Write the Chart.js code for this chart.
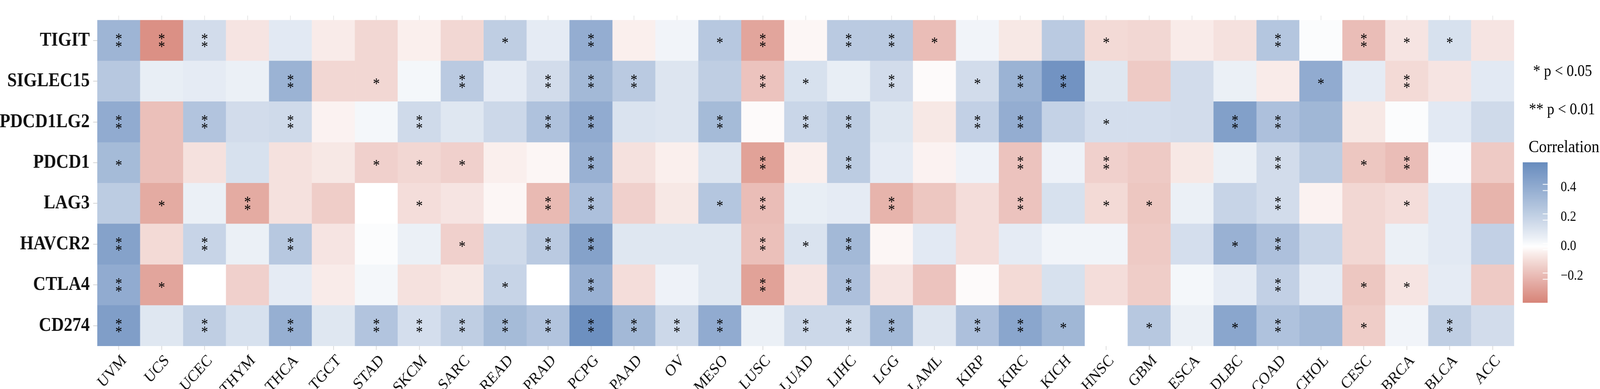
<!DOCTYPE html>
<html>
<head>
<meta charset="utf-8">
<script src="https://cdn.jsdelivr.net/npm/chart.js@4.4.1/dist/chart.umd.min.js"></script>
<style>
html, body { margin:0; padding:0; background:#fff; overflow:hidden; }
#wrap { width:4639px; height:997px; transform-origin:0 0; }
</style>
</head>
<body>
<div id="wrap"><canvas id="heat"></canvas></div>
<script>
var cancers = ['UVM','UCS','UCEC','THYM','THCA','TGCT','STAD','SKCM','SARC','READ','PRAD','PCPG','PAAD','OV','MESO','LUSC','LUAD','LIHC','LGG','LAML','KIRP','KIRC','KICH','HNSC','GBM','ESCA','DLBC','COAD','CHOL','CESC','BRCA','BLCA','ACC'];
// bottom row first
var genes = ['CD274','CTLA4','HAVCR2','LAG3','PDCD1','PDCD1LG2','SIGLEC15','TIGIT'];

var corTIGIT    = [0.35,-0.34,0.15,-0.07,0.09,-0.05,-0.11,-0.04,-0.11,0.22,0.08,0.39,-0.04,0.04,0.25,-0.27,-0.02,0.24,0.24,-0.19,0.04,-0.06,0.24,-0.10,-0.11,-0.05,-0.08,0.26,0.01,-0.19,-0.07,0.13,-0.07];
var corSIGLEC15 = [0.25,0.07,0.08,0.06,0.36,-0.11,-0.11,0.03,0.24,0.08,0.15,0.33,0.24,0.11,0.22,-0.17,0.13,0.07,0.15,-0.01,0.15,0.36,0.53,0.10,-0.15,0.15,0.06,-0.05,0.40,0.08,-0.10,-0.07,0.09];
var corPDCD1LG2 = [0.40,-0.18,0.27,0.15,0.16,-0.03,0.03,0.16,0.10,0.17,0.28,0.40,0.12,0.11,0.32,-0.01,0.18,0.23,0.10,-0.06,0.21,0.39,0.20,0.14,0.14,0.15,0.46,0.29,0.34,-0.06,0.01,0.09,0.16];
var corPDCD1    = [0.32,-0.18,-0.08,0.13,-0.08,-0.06,-0.13,-0.11,-0.13,-0.04,-0.02,0.37,-0.08,-0.04,0.11,-0.28,-0.04,0.23,0.08,-0.03,0.05,-0.17,0.05,-0.13,-0.15,-0.06,0.06,0.15,0.23,-0.16,-0.19,0.02,-0.15];
var corLAG3     = [0.23,-0.25,0.06,-0.25,-0.08,-0.14,0.00,-0.09,-0.07,-0.02,-0.20,0.29,-0.13,-0.06,0.26,-0.19,0.07,0.08,-0.22,-0.16,-0.09,-0.17,0.13,-0.10,-0.16,0.06,0.19,0.15,-0.03,-0.11,-0.09,0.09,-0.22];
var corHAVCR2   = [0.45,-0.10,0.19,0.06,0.25,-0.07,0.01,0.06,-0.13,0.16,0.24,0.45,0.10,0.10,0.10,-0.18,0.12,0.33,-0.02,0.09,-0.09,0.08,0.04,0.04,-0.15,0.14,0.37,0.29,0.18,-0.11,0.06,0.09,0.21];
var corCTLA4    = [0.40,-0.27,0.00,-0.13,0.08,-0.05,0.03,-0.08,-0.06,0.19,0.00,0.37,-0.09,0.05,0.10,-0.28,-0.07,0.29,-0.07,-0.17,-0.01,-0.10,0.13,-0.09,-0.14,0.03,0.08,0.21,0.08,-0.16,-0.07,0.08,-0.15];
var corCD274    = [0.47,0.10,0.22,0.13,0.38,0.10,0.27,0.14,0.22,0.32,0.27,0.55,0.33,0.17,0.40,0.06,0.17,0.17,0.33,0.11,0.29,0.43,0.34,0.00,0.25,0.06,0.43,0.28,0.33,-0.14,0.04,0.22,0.15];

// number of asterisks per cell
var sigTIGIT    = [2,2,2,0,0,0,0,0,0,1,0,2,0,0,1,2,0,2,2,1,0,0,0,1,0,0,0,2,0,2,1,1,0];
var sigSIGLEC15 = [0,0,0,0,2,0,1,0,2,0,2,2,2,0,0,2,1,0,2,0,1,2,2,0,0,0,0,0,1,0,2,0,0];
var sigPDCD1LG2 = [2,0,2,0,2,0,0,2,0,0,2,2,0,0,2,0,2,2,0,0,2,2,0,1,0,0,2,2,0,0,0,0,0];
var sigPDCD1    = [1,0,0,0,0,0,1,1,1,0,0,2,0,0,0,2,0,2,0,0,0,2,0,2,0,0,0,2,0,1,2,0,0];
var sigLAG3     = [0,1,0,2,0,0,0,1,0,0,2,2,0,0,1,2,0,0,2,0,0,2,0,1,1,0,0,2,0,0,1,0,0];
var sigHAVCR2   = [2,0,2,0,2,0,0,0,1,0,2,2,0,0,0,2,1,2,0,0,0,0,0,0,0,0,1,2,0,0,0,0,0];
var sigCTLA4    = [2,1,0,0,0,0,0,0,0,1,0,2,0,0,0,2,0,2,0,0,0,0,0,0,0,0,0,2,0,1,1,0,0];
var sigCD274    = [2,0,2,0,2,0,2,2,2,2,2,2,2,2,2,0,2,2,2,0,2,2,1,0,1,0,1,2,0,1,0,2,0];

var corByGene = {TIGIT:corTIGIT, SIGLEC15:corSIGLEC15, PDCD1LG2:corPDCD1LG2, PDCD1:corPDCD1, LAG3:corLAG3, HAVCR2:corHAVCR2, CTLA4:corCTLA4, CD274:corCD274};
var sigByGene = {TIGIT:sigTIGIT, SIGLEC15:sigSIGLEC15, PDCD1LG2:sigPDCD1LG2, PDCD1:sigPDCD1, LAG3:sigLAG3, HAVCR2:sigHAVCR2, CTLA4:sigCTLA4, CD274:sigCD274};

var legendTicks = [0.4, 0.2, 0.0, -0.2];
var corMax = 0.57, corMin = -0.38;
var highCol = [104,140,190], lowCol = [215,132,120];

// the window may be narrower than 4639 px: stretch the drawing to fill it
var sx = window.innerWidth / 4639, sy = window.innerHeight / 997;
document.getElementById('wrap').style.transform = 'scale(' + sx + ',' + sy + ')';

function cellColor(v){
    var t, c;
    if (v >= 0) { t = Math.min(v / corMax, 1); c = highCol; }
    else { t = Math.min(v / corMin, 1); c = lowCol; }
    t = Math.pow(t, 0.9);
    var r = Math.round(255 + (c[0]-255)*t);
    var g = Math.round(255 + (c[1]-255)*t);
    var b = Math.round(255 + (c[2]-255)*t);
    return 'rgb(' + r + ',' + g + ',' + b + ')';
}

var serif = '"Liberation Serif", "Times New Roman", serif';

var starPlugin = {
    id: 'stars',
    afterDatasetsDraw: function(chart){
        var ctx = chart.ctx, xs = chart.scales.x, ys = chart.scales.y;
        ctx.save();
        ctx.font = '40px ' + serif;
        ctx.fillStyle = '#000';
        ctx.textAlign = 'center';
        ctx.textBaseline = 'alphabetic';
        var m = ctx.measureText('*');
        var shift = (m.actualBoundingBoxAscent - m.actualBoundingBoxDescent) / 2;
        genes.forEach(function(g, r){
            sigByGene[g].forEach(function(n, c){
                var cx = xs.getPixelForValue(c);
                var cy = ys.getPixelForValue(r + 0.5);
                if (n == 1) ctx.fillText('*', cx, cy + shift);
                if (n == 2) {
                    ctx.fillText('*', cx, cy - 10 + shift);
                    ctx.fillText('*', cx, cy + 10 + shift);
                }
            });
        });
        ctx.restore();
    }
};

var legendPlugin = {
    id: 'corrLegend',
    afterDraw: function(chart){
        var ctx = chart.ctx, right = chart.chartArea.right;
        ctx.save();
        ctx.fillStyle = '#000';
        ctx.textBaseline = 'middle';
        ctx.textAlign = 'left';
        ctx.font = '42px ' + serif;
        ctx.fillText('* p < 0.05', right + 55, 184);
        ctx.fillText('** p < 0.01', right + 43, 282);
        ctx.font = '45px ' + serif;
        ctx.fillText('Correlation', right + 42, 378);

        var bx = right + 25, bw = 72, top = 416, bottom = 776;
        var grad = ctx.createLinearGradient(0, top, 0, bottom);
        for (var i = 0; i <= 20; i++) {
            var v = corMax + (corMin - corMax) * i / 20;
            grad.addColorStop(i / 20, cellColor(v));
        }
        grad.addColorStop((corMax) / (corMax - corMin), cellColor(0));
        ctx.fillStyle = grad;
        ctx.fillRect(bx, top, bw, bottom - top);

        ctx.font = '36px ' + serif;
        ctx.strokeStyle = '#fff';
        ctx.lineWidth = 2;
        legendTicks.forEach(function(t){
            var y = top + (corMax - t) / (corMax - corMin) * (bottom - top);
            ctx.beginPath();
            ctx.moveTo(bx + bw - 14, y - 8); ctx.lineTo(bx + bw, y - 8);
            ctx.moveTo(bx + bw - 14, y + 8); ctx.lineTo(bx + bw, y + 8);
            ctx.stroke();
            ctx.fillStyle = '#000';
            var lab = t < 0 ? '\u2212' + Math.abs(t).toFixed(1) : t.toFixed(1);
            ctx.fillText(lab, bx + bw + 38, y);
        });
        ctx.restore();
    }
};

var datasets = genes.map(function(g){
    return {
        label: g,
        data: cancers.map(function(){ return 1; }),
        backgroundColor: corByGene[g].map(cellColor),
        borderColor: corByGene[g].map(cellColor),
        borderWidth: 0.5,
        borderSkipped: false,
        barPercentage: 1,
        categoryPercentage: 1,
        stack: 'cells'
    };
});

new Chart(document.getElementById('heat'), {
    type: 'bar',
    data: { labels: cancers, datasets: datasets },
    options: {
        responsive: true,
        maintainAspectRatio: false,
        devicePixelRatio: 1,
        animation: false,
        events: [],
        layout: { padding: { left: 0, right: 249, top: 0, bottom: 0 } },
        plugins: { legend: { display: false }, tooltip: { enabled: false } },
        scales: {
            x: {
                stacked: true,
                afterFit: function(s){ s.height = 110; },
                border: { display: false },
                grid: { offset: false, color: '#e6e6e6', tickColor: '#d6d6d6', tickLength: 10, lineWidth: 2 },
                ticks: {
                    autoSkip: false, maxRotation: 45, minRotation: 45,
                    color: '#111', padding: 3, labelOffset: 16,
                    font: { family: serif, size: 42 }
                }
            },
            y: {
                stacked: true,
                min: 0, max: 8.11,
                afterFit: function(s){ s.width = 282; },
                afterBuildTicks: function(s){
                    s.ticks = genes.map(function(g, i){ return { value: i + 0.5 }; });
                },
                border: { display: false },
                grid: { color: '#e6e6e6', tickColor: '#d6d6d6', tickLength: 12, lineWidth: 2 },
                ticks: {
                    color: '#111', padding: 10,
                    font: { family: serif, size: 50, weight: 'bold' },
                    callback: function(v, i){ return genes[i]; }
                }
            }
        }
    },
    plugins: [starPlugin, legendPlugin]
});
</script>
</body>
</html>
